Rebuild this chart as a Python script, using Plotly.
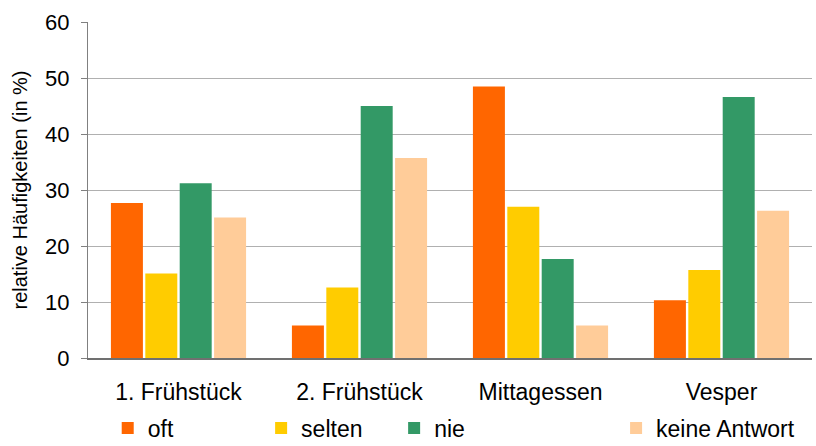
import plotly.graph_objects as go

# Meals and answer categories
meals = ["1. Frühstück", "2. Frühstück", "Mittagessen", "Vesper"]
answers = ["oft", "selten", "nie", "keine Antwort"]

# Relative frequencies (in %) per answer, one value per meal
oft = [27.7, 5.8, 48.5, 10.3]
selten = [15.1, 12.6, 27.0, 15.7]
nie = [31.2, 45.0, 17.7, 46.6]
keine_antwort = [25.1, 35.7, 5.8, 26.3]

y_ticks = [0, 10, 20, 30, 40, 50, 60]

series = [oft, selten, nie, keine_antwort]
colors = ["#FF6600", "#FFCC00", "#339966", "#FFCC99"]
legend_ids = ["legend", "legend2", "legend3", "legend4"]
# left edge of each legend entry, as a fraction of the page width
legend_x = [0.132, 0.320, 0.483, 0.755]

FONT = "Liberation Sans, Arial, sans-serif"

fig = go.Figure()
for name, vals, col, lg in zip(answers, series, colors, legend_ids):
    fig.add_trace(go.Bar(
        x=meals, y=vals, name=name,
        marker=dict(color=col, line=dict(width=0)),
        legend=lg,
    ))

layout_legends = {}
for lg, lx in zip(legend_ids, legend_x):
    layout_legends[lg] = dict(
        x=lx, y=0.04, xref="container", yref="container",
        xanchor="left", yanchor="middle",
        orientation="h", bgcolor="rgba(0,0,0,0)",
        tracegroupgap=0, borderwidth=0,
        font=dict(family=FONT, size=23, color="#000000"),
        itemclick=False, itemdoubleclick=False,
    )

fig.update_layout(
    width=816, height=446,
    margin=dict(l=88, r=4, t=22, b=88, autoexpand=False),
    paper_bgcolor="white", plot_bgcolor="white",
    barmode="group", bargap=0.24, bargroupgap=0.07,
    font=dict(family=FONT, color="#000000"),
    showlegend=True,
    xaxis=dict(
        showgrid=False, showline=True, linecolor="#707070", linewidth=2,
        ticks="", tickfont=dict(size=23, family=FONT),
        ticklabelstandoff=12,
    ),
    yaxis=dict(
        range=[0, 60], tickvals=y_ticks,
        showgrid=True, gridcolor="#B0B0B0", gridwidth=1,
        showline=True, linecolor="#808080", linewidth=1,
        ticks="outside", ticklen=6, tickcolor="#808080",
        tickfont=dict(size=22, family=FONT),
        ticklabelstandoff=7,
        zeroline=False,
        title=dict(text="relative Häufigkeiten (in %)",
                   font=dict(size=20, family=FONT), standoff=12),
    ),
    **layout_legends,
)

fig.write_html("out.html")
